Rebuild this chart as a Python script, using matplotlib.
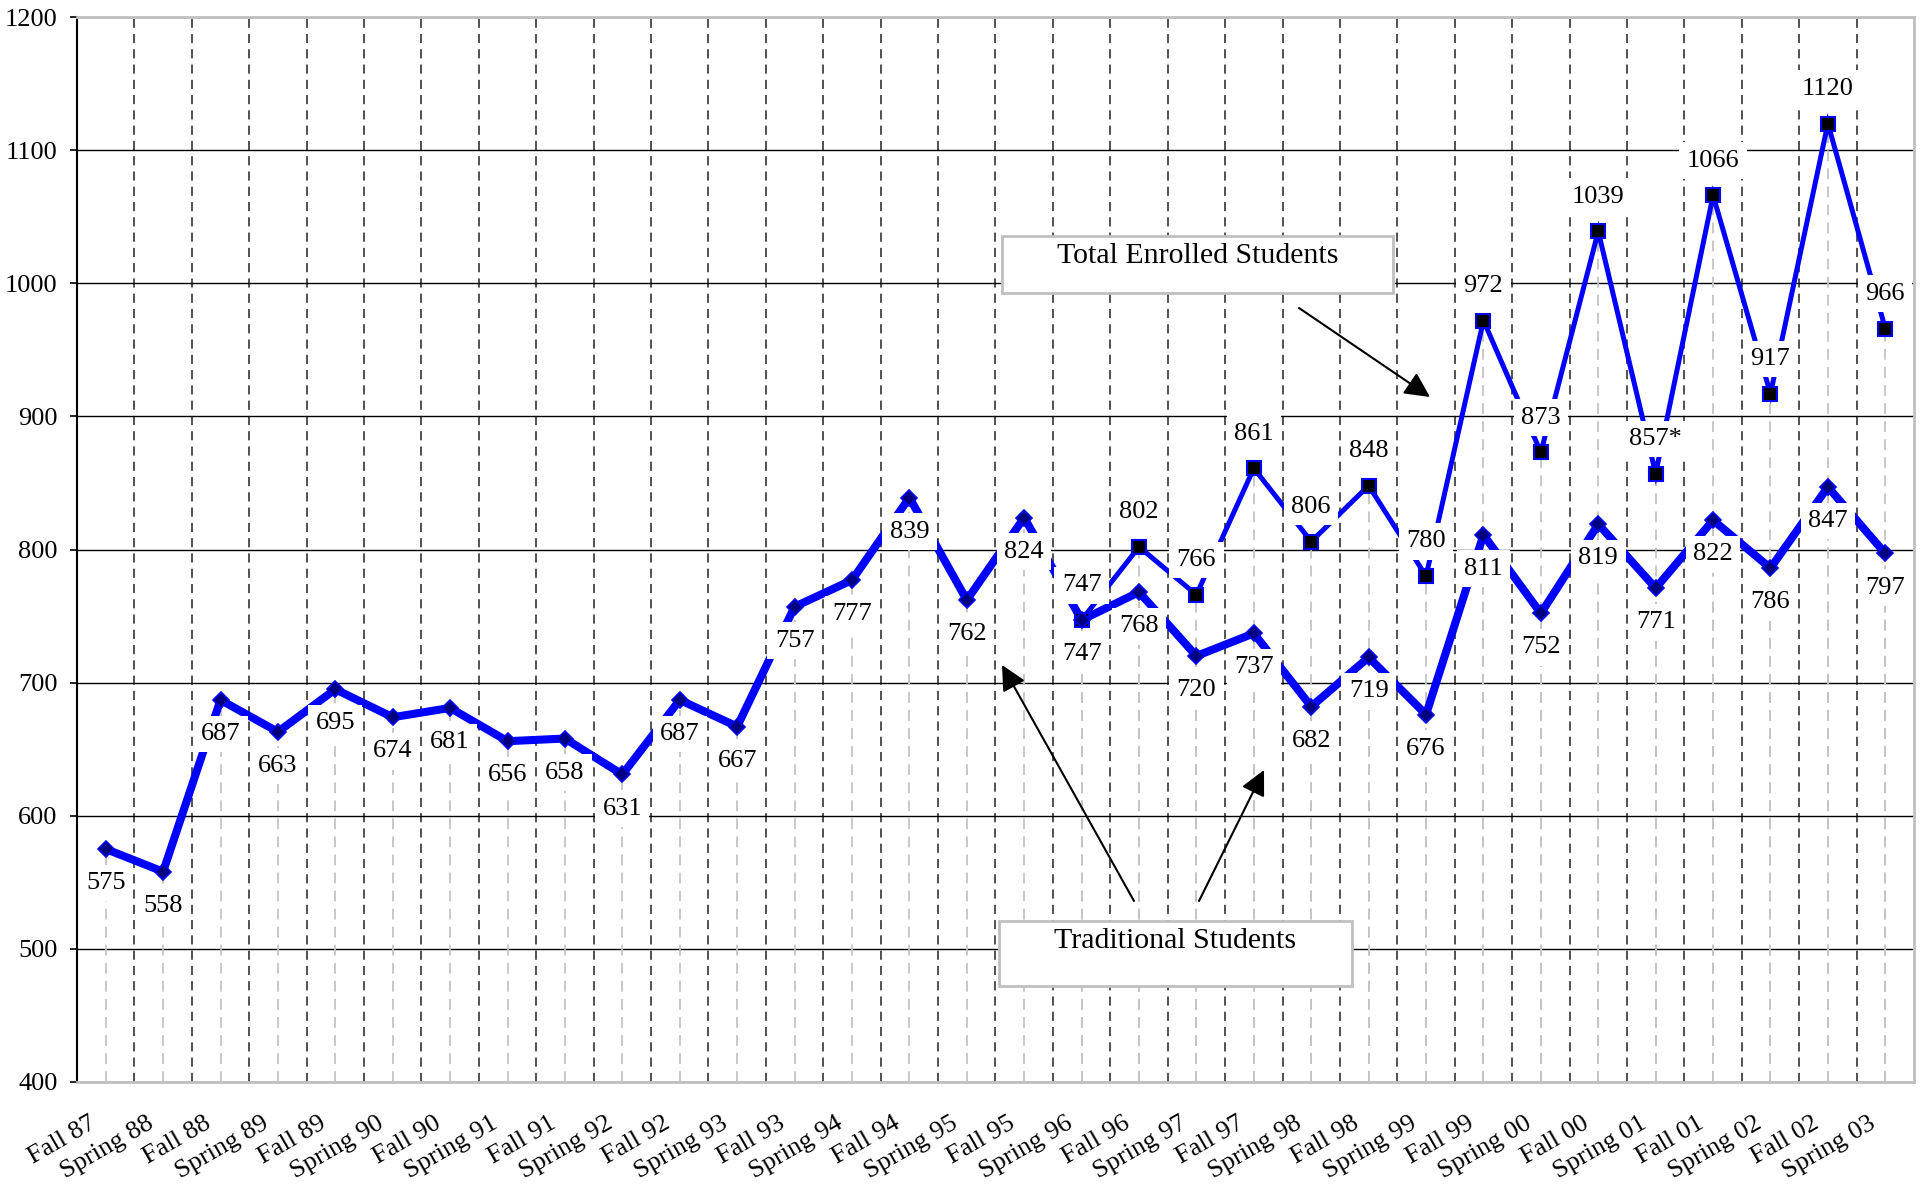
import numpy as np
import matplotlib
matplotlib.use("Agg")
import matplotlib.pyplot as plt
from matplotlib.patches import FancyArrowPatch, Rectangle
from matplotlib.transforms import ScaledTranslation

# semesters on the category axis
semesters = ["Fall 87", "Spring 88", "Fall 88", "Spring 89", "Fall 89", "Spring 90",
             "Fall 90", "Spring 91", "Fall 91", "Spring 92", "Fall 92", "Spring 93",
             "Fall 93", "Spring 94", "Fall 94", "Spring 95", "Fall 95", "Spring 96",
             "Fall 96", "Spring 97", "Fall 97", "Spring 98", "Fall 98", "Spring 99",
             "Fall 99", "Spring 00", "Fall 00", "Spring 01", "Fall 01", "Spring 02",
             "Fall 02", "Spring 03"]

traditional = [575, 558, 687, 663, 695, 674, 681, 656, 658, 631, 687, 667,
               757, 777, 839, 762, 824, 747, 768, 720, 737, 682, 719, 676,
               811, 752, 819, 771, 822, 786, 847, 797]

# total enrolled is only shown separately from Spring 96 on
total = [None] * 17 + [747, 802, 766, 861, 806, 848, 780,
                       972, 873, 1039, 857, 1066, 917, 1120, 966]
# footnote mark on the Spring 01 total
total_marks = {"Spring 01": "*"}

yticks = [400, 500, 600, 700, 800, 900, 1000, 1100, 1200]

plt.rcParams["font.family"] = ["Liberation Serif", "DejaVu Serif"]
FS = 19

W, H = 1928, 1186
fig = plt.figure(figsize=(W / 100, H / 100), dpi=100)
ax = fig.add_axes([77 / W, 1 - 1082 / H, (1914 - 77) / W, (1082 - 17) / H])

x = np.arange(len(semesters))
trad = np.array(traditional, dtype=float)
tot = np.array([np.nan if v is None else v for v in total], dtype=float)

# drop lines
ax.vlines(x, 400, trad, colors="#c4c4c4", linestyles=(0, (6, 4)), linewidth=1.3, zorder=1.2)
ok = ~np.isnan(tot)
ax.vlines(x[ok], 400, tot[ok], colors="#c4c4c4", linestyles=(0, (6, 4)), linewidth=1.3, zorder=1.2)

# series lines
ax.plot(x, tot, color="#0000ff", linewidth=3.6, zorder=2, solid_joinstyle="miter")
ax.plot(x, trad, color="#0000ff", linewidth=5.8, zorder=2.1, solid_joinstyle="miter")

# markers on top of labels
ax.plot(x, tot, linestyle="none", marker="s", markersize=10, markerfacecolor="black",
        markeredgecolor="#0000ff", markeredgewidth=1.5, zorder=5)
ax.plot(x, trad, linestyle="none", marker="D", markersize=8, markerfacecolor="#000080",
        markeredgecolor="#0000ff", markeredgewidth=1.2, zorder=5)

box = dict(boxstyle="square,pad=0.28", facecolor="white", edgecolor="none")
for xi, v in zip(x, trad):
    ax.annotate(f"{int(v)}", (xi, v), xytext=(0, -24.5), textcoords="offset points",
                ha="center", va="center", fontsize=FS, bbox=box, zorder=4)
for xi, v, name in zip(x, tot, semesters):
    if np.isnan(v):
        continue
    ax.annotate(f"{int(v)}" + total_marks.get(name, ""), (xi, v), xytext=(0, 25),
                textcoords="offset points", ha="center", va="center",
                fontsize=FS, bbox=box, zorder=4)

ax.set_xlim(-0.5, len(semesters) - 0.5)
ax.set_ylim(400, 1200)
ax.set_yticks(yticks)
ax.set_xticks(x)
ax.set_xticklabels(semesters, rotation=30, ha="right", va="top", fontsize=FS)
ax.set_xticks(np.arange(0.5, len(semesters) - 0.5, 1), minor=True)
ax.tick_params(axis="x", which="both", length=0, pad=22)
ax.tick_params(axis="y", length=5, width=1.2, pad=9, labelsize=FS, direction="out")
for lab in ax.get_xticklabels():
    lab.set_transform(lab.get_transform() + ScaledTranslation(-4 / 72, 0, fig.dpi_scale_trans))

ax.grid(axis="y", which="major", color="black", linewidth=1.0)
ax.grid(axis="x", which="minor", color="#222222", linestyle=(0, (6, 4)), linewidth=1.1)
ax.grid(axis="x", which="major", visible=False)
ax.set_axisbelow(True)

for side in ["top", "right", "bottom"]:
    ax.spines[side].set_color("#c0c0c0")
    ax.spines[side].set_linewidth(2)
ax.spines["left"].set_color("black")
ax.spines["left"].set_linewidth(1.5)

# callout boxes and arrows (figure pixel coordinates)
def fig_xy(px, py):
    return (px / W, 1 - py / H)

def callout(text, x0, y0, x1, y1, ty):
    fig.add_artist(Rectangle(fig_xy(x0, y1), (x1 - x0) / W, (y1 - y0) / H,
                             transform=fig.transFigure, facecolor="white",
                             edgecolor="#c0c0c0", linewidth=2, zorder=6))
    fig.text(*fig_xy((x0 + x1) / 2, ty), text, ha="center", va="center",
             fontsize=21.5, zorder=7)

callout("Total Enrolled Students", 1002, 236, 1393, 293, 256)
callout("Traditional Students", 999, 921, 1352, 986, 941)

for (sx, sy), (ex, ey) in [((1299, 308), (1430, 397)),
                           ((1134, 901), (1002, 665)),
                           ((1199, 901), (1264, 770))]:
    fig.add_artist(FancyArrowPatch(fig_xy(sx, sy), fig_xy(ex, ey),
                                   transform=fig.transFigure,
                                   arrowstyle="-|>,head_length=0.9,head_width=0.45",
                                   mutation_scale=17, color="black", linewidth=1.5,
                                   shrinkA=0, shrinkB=0, zorder=6))

fig.savefig("out.png", dpi=100)
